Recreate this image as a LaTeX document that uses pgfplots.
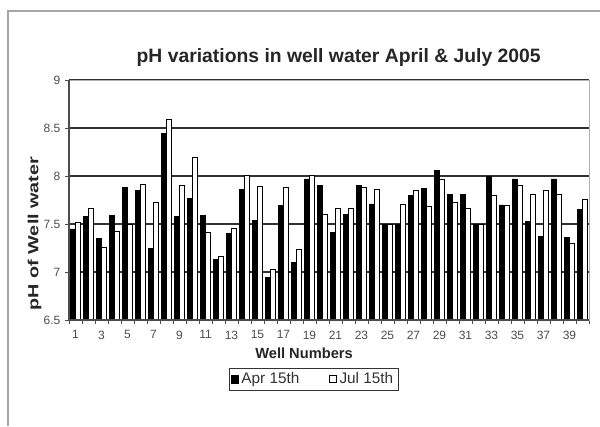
\documentclass[border=0pt]{standalone}
\usepackage{pgfplots}
\pgfplotsset{compat=1.18}
\usepackage{fontspec}
\setmainfont{Liberation Sans}
\begin{document}
\begin{tikzpicture}
\useasboundingbox (0,0) rectangle (450pt,319.5pt);
\draw[gray!70, line width=1pt] (6pt,0) -- (6pt,311.25pt) -- (450pt,311.25pt);
\node[font=\bfseries\fontsize{14.5}{16}\selectfont, text=black!85] at (254pt,276.5pt) {pH variations in well water April \& July 2005};
\begin{axis}[
  name=ax,
  at={(51.75pt,79.5pt)}, anchor=south west,
  scale only axis, width=390pt, height=180pt,
  xmin=0.5, xmax=40.5, ymin=6.5, ymax=9,
  ytick={6.5,7,7.5,8,8.5,9},
  yticklabels={6.5,7,7.5,8,8.5,9},
  ymajorgrids, major grid style={black!80, line width=0.8pt},
  xtick={1,3,...,39},
  minor xtick={0.5,1.5,...,40.5},
  every major x tick/.append style={draw=none},
  tick align=outside, tick pos=left,
  major tick length=3pt, minor tick length=3pt,
  tick style={black!70},
  axis line style={draw=gray!60},
  /pgf/number format/assume math mode=true,
  ticklabel style={font=\fontsize{9}{10}\selectfont, text=black!70},
  xticklabel style={yshift=-1.5pt},
  ybar=0pt, bar width=3.9pt,
  xlabel={Well Numbers},
  xlabel style={font=\bfseries\fontsize{11}{13}\selectfont, text=black!85, at={(axis description cs:0.452,-0.1375)}, anchor=center},
  ylabel={\scalebox{1.35}[1]{pH of Well water}},
  ylabel style={font=\bfseries\fontsize{11}{13}\selectfont, text=black!85, at={(axis description cs:-0.066,0.36)}, anchor=center},
  legend columns=2,
  legend style={at={(axis description cs:0.470,-0.246)}, anchor=center, draw=black!80, font=\fontsize{11.5}{12}\selectfont, text=black!80, inner sep=1.5pt, /tikz/every even column/.append style={column sep=20pt}},
  legend image code/.code={\draw[#1] (0pt,-2.8pt) rectangle (5.5pt,2.8pt);},
]
\addplot[fill=black, draw=black] coordinates {
(1,7.45) (2,7.58) (3,7.35) (4,7.59) (5,7.88) (6,7.85) (7,7.25) (8,8.44) (9,7.58) (10,7.77)
(11,7.59) (12,7.13) (13,7.40) (14,7.86) (15,7.54) (16,6.94) (17,7.69) (18,7.10) (19,7.97) (20,7.90)
(21,7.41) (22,7.60) (23,7.90) (24,7.71) (25,7.50) (26,7.50) (27,7.80) (28,7.87) (29,8.06) (30,7.81)
(31,7.81) (32,7.50) (33,8.00) (34,7.70) (35,7.97) (36,7.53) (37,7.37) (38,7.97) (39,7.36) (40,7.65)};
\addplot[fill=white, draw=black, line width=0.6pt] coordinates {
(1,7.52) (2,7.66) (3,7.26) (4,7.42) (5,7.50) (6,7.91) (7,7.72) (8,8.59) (9,7.90) (10,8.19)
(11,7.41) (12,7.16) (13,7.45) (14,8.01) (15,7.89) (16,7.03) (17,7.88) (18,7.24) (19,8.01) (20,7.60)
(21,7.66) (22,7.66) (23,7.88) (24,7.86) (25,7.50) (26,7.70) (27,7.85) (28,7.68) (29,7.96) (30,7.72)
(31,7.66) (32,7.50) (33,7.80) (34,7.69) (35,7.90) (36,7.81) (37,7.85) (38,7.81) (39,7.30) (40,7.76)};
\legend{Apr 15th, Jul 15th}
\end{axis}
\draw[black!70, line width=0.8pt] (ax.north west) -- (ax.south west) -- (ax.south east);
\end{tikzpicture}
\end{document}
